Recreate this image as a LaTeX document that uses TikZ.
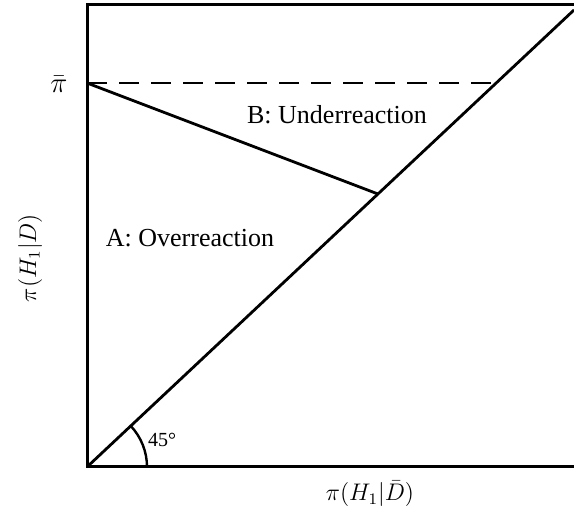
\documentclass[tikz,border=0pt]{standalone}
\usepackage{fontspec}
\setmainfont{Liberation Serif}
\begin{document}
\begin{tikzpicture}[x=0.5pt,y=-0.5pt,
  axis/.style={line width=1.5pt},
  curve/.style={line width=1.4pt},
  dashline/.style={line width=1.2pt,dash pattern=on 10pt off 6pt},
  lab/.style={font=\fontsize{13}{15}\selectfont, inner sep=0pt},
  mlab/.style={font=\fontsize{11.5}{13}\selectfont, inner sep=0pt}]
\useasboundingbox (0,0) rectangle (574,513);
\coordinate (O) at (87,467);
\coordinate (TL) at (87,5);
\coordinate (TR) at (576,5);
\coordinate (BR) at (576,467);
\coordinate (D) at (574,10);
\coordinate (PB) at (87,83);
\coordinate (Q) at (496,83);
\coordinate (P) at (378,194);
\draw[axis] (TR) -- (TL) -- (O) -- (BR);
\draw[curve] (O) -- (D);
\draw[curve] (PB) -- (P);
\draw[dashline] (PB) -- (Q);
\draw[line width=1.2pt] ([shift={(60,0)}]O) arc[start angle=0,end angle=43.1,radius=30pt];
\node[lab] (A) at (190,238) {A: Overreaction};
\node[lab] (B) at (337,115) {B: Underreaction};
\node[font=\fontsize{10}{12}\selectfont, inner sep=0pt] (ang) at (162,440) {45°};
\node[font=\fontsize{15}{17}\selectfont, inner sep=0pt] (pib) at (59,84) {$\bar\pi$};
\node[mlab] (xl) at (370,494) {$\pi(H_1|\bar{D})$};
\node[mlab, rotate=90] (yl) at (30,258) {$\pi(H_1|D)$};
\end{tikzpicture}
\end{document}
